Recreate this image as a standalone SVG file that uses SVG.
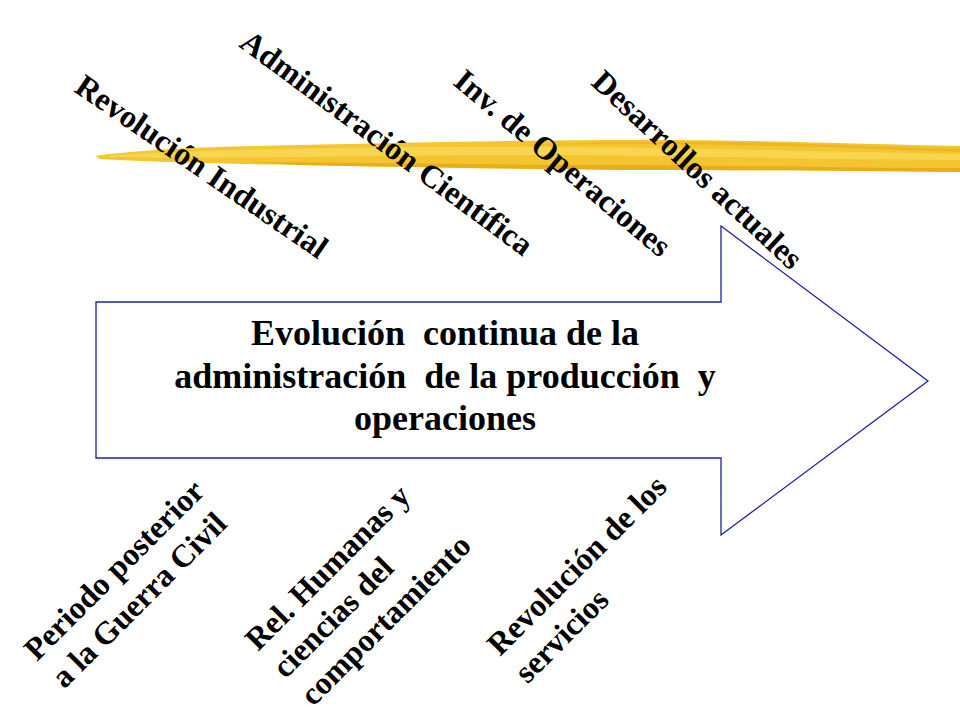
<svg xmlns="http://www.w3.org/2000/svg" width="960" height="720" viewBox="0 0 960 720">
<style>
.lbl{font-family:"Liberation Serif","Times New Roman",serif;font-weight:bold;font-size:32px;fill:#000}
.main{font-family:"Liberation Serif","Times New Roman",serif;font-weight:bold;font-size:36px;fill:#000;white-space:pre}
.arrow{fill:#fff;stroke:#1f1fb0;stroke-width:1.3}
</style>
<rect width="960" height="720" fill="#fff"/>
<g id="brush">
<path d="M95,156 C140,150 200,147 260,146 C380,143 520,140 640,140 C760,140 860,144 960,146 L960,172 C860,171 760,170 640,170 C520,169 400,167 300,165 C220,164 160,162 100,159 Z" fill="#f3c530"/>
<path d="M110,155 C200,150 300,148 420,147 C540,146 650,147 760,150 C850,152 910,153 960,154 L960,160 C880,160 780,158 660,156 C540,154 420,155 300,157 C220,158 160,158 110,157 Z" fill="#f8d85a" opacity="0.8"/>
<path d="M250,162 C380,163 520,165 640,165 C760,166 860,168 960,168 L960,172 C860,171 760,170 640,170 C520,169 400,167 300,165 Z" fill="#e6a812" opacity="0.85"/>
<path d="M520,145 C620,143 720,144 820,147 C880,149 930,151 960,152 L960,149 C900,147 840,145 780,143 C700,141 600,142 520,145 Z" fill="#e9b420" opacity="0.8"/>
</g>
<g id="arrow">
<polygon class="arrow" points="96,302 721,302 721,226 928,381 721,535 721,458 96,458"/>
</g>
<g id="center-text">
<text class="main" text-anchor="middle"><tspan x="445" y="345">Evolución  continua de la</tspan><tspan x="445" y="388">administración  de la producción  y</tspan><tspan x="445" y="430">operaciones</tspan></text>
</g>
<g id="revolucion-industrial"><text class="lbl" transform="translate(73,91) rotate(34.5)">Revolución Industrial</text></g>
<g id="administracion-cientifica"><text class="lbl" transform="translate(238,46) rotate(36.5)">Administración Científica</text></g>
<g id="inv-operaciones"><text class="lbl" transform="translate(452,84) rotate(40)">Inv. de Operaciones</text></g>
<g id="desarrollos-actuales"><text class="lbl" transform="translate(590,84) rotate(43)">Desarrollos actuales</text></g>
<g id="periodo-posterior"><text class="lbl" transform="translate(37,662) rotate(-45)"><tspan x="0" y="0">Periodo posterior</tspan><tspan x="0" y="39">a la Guerra Civil</tspan></text></g>
<g id="rel-humanas"><text class="lbl" transform="translate(258,652) rotate(-45)"><tspan x="0" y="0">Rel. Humanas y</tspan><tspan x="0" y="39">ciencias del</tspan><tspan x="0" y="78">comportamiento</tspan></text></g>
<g id="revolucion-servicios"><text class="lbl" transform="translate(500,657) rotate(-45)"><tspan x="0" y="0">Revolución de los</tspan><tspan x="0" y="39">servicios</tspan></text></g>
</svg>
